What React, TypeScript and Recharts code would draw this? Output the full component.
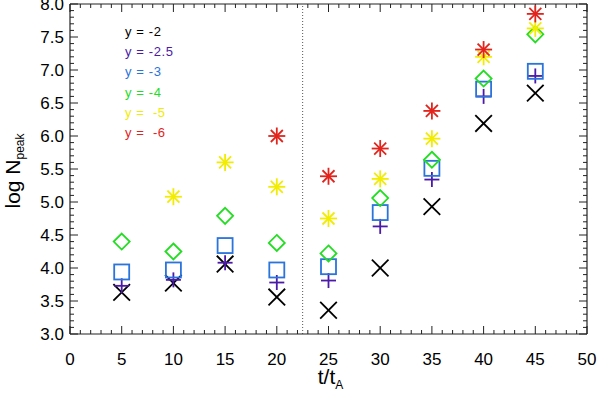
import React from 'react';
import { ScatterChart, Scatter, XAxis, YAxis, ReferenceLine } from 'recharts';

// ---------- data ----------
const times = [5, 10, 15, 20, 25, 30, 35, 40, 45];
const seriesLabels = ['y = -2', 'y = -2.5', 'y = -3', 'y = -4', 'y =  -5', 'y =  -6'];
const seriesColors = ['#000000', '#4b1aa8', '#2a74dc', '#22dd22', '#f2ec00', '#e2241c'];
const seriesKinds = ['x', 'plus', 'square', 'diamond', 'asterisk', 'asterisk'];

const valsM2 = [3.63, 3.77, 4.06, 3.56, 3.36, 4.0, 4.93, 6.19, 6.65];
const valsM25 = [3.73, 3.82, 4.08, 3.78, 3.81, 4.63, 5.34, 6.6, 6.91];
const valsM3 = [3.94, 3.97, 4.34, 3.97, 4.02, 4.84, 5.51, 6.71, 6.98];
const valsM4 = [4.4, 4.25, 4.79, 4.38, 4.22, 5.06, 5.64, 6.87, 7.54];
const valsM5 = [null, 5.08, 5.6, 5.23, 4.75, 5.35, 5.96, 7.2, 7.63];
const valsM6 = [null, null, null, 6.0, 5.39, 5.81, 6.38, 7.31, 7.85];
const allVals = [valsM2, valsM25, valsM3, valsM4, valsM5, valsM6];

const xMajorTicks = [0, 5, 10, 15, 20, 25, 30, 35, 40, 45, 50];
const xMinorTicks = [
  1, 2, 3, 4, 6, 7, 8, 9, 11, 12, 13, 14, 16, 17, 18, 19, 21, 22, 23, 24,
  26, 27, 28, 29, 31, 32, 33, 34, 36, 37, 38, 39, 41, 42, 43, 44, 46, 47, 48, 49,
];
const yMajorTicks = [3, 3.5, 4, 4.5, 5, 5.5, 6, 6.5, 7, 7.5, 8];
const yMinorTicks = [
  3.1, 3.2, 3.3, 3.4, 3.6, 3.7, 3.8, 3.9, 4.1, 4.2, 4.3, 4.4, 4.6, 4.7, 4.8, 4.9,
  5.1, 5.2, 5.3, 5.4, 5.6, 5.7, 5.8, 5.9, 6.1, 6.2, 6.3, 6.4, 6.6, 6.7, 6.8, 6.9,
  7.1, 7.2, 7.3, 7.4, 7.6, 7.7, 7.8, 7.9,
];
const separatorX = 22.5;

// ---------- layout constants ----------
const W = 600;
const H = 394;
const MARGIN = { top: 4, right: 13, left: 0, bottom: 0 };
const Y_AXIS_W = 70;
const X_AXIS_H = 60;
const X_MIN = 0, X_MAX = 50, Y_MIN = 3, Y_MAX = 8;
const plotW = W - MARGIN.left - MARGIN.right - Y_AXIS_W;
const plotH = H - MARGIN.top - MARGIN.bottom - X_AXIS_H;
const pxPerX = plotW / (X_MAX - X_MIN);
const pxPerY = plotH / (Y_MAX - Y_MIN);
const MAJOR = 8;
const MINOR = 4;
const FONT = '"Liberation Sans", Arial, Helvetica, sans-serif';
const AXIS_COLOR = '#222';

const makeShape = (kind: string, color: string) => (props: any) => {
  const { cx, cy } = props;
  if (cx == null || cy == null) return <g />;
  const sw = 1.8;
  const common = { stroke: color, strokeWidth: sw, fill: 'none' };
  if (kind === 'x') {
    const h = 8.3;
    return (
      <g {...common}>
        <line x1={cx - h} y1={cy - h} x2={cx + h} y2={cy + h} />
        <line x1={cx - h} y1={cy + h} x2={cx + h} y2={cy - h} />
      </g>
    );
  }
  if (kind === 'plus') {
    const h = 7.5;
    return (
      <g {...common}>
        <line x1={cx - h} y1={cy} x2={cx + h} y2={cy} />
        <line x1={cx} y1={cy - h} x2={cx} y2={cy + h} />
      </g>
    );
  }
  if (kind === 'square') {
    const h = 7.5;
    return <rect {...common} x={cx - h} y={cy - h} width={2 * h} height={2 * h} />;
  }
  if (kind === 'diamond') {
    const h = 8;
    return (
      <polygon
        {...common}
        points={`${cx},${cy - h} ${cx + h},${cy} ${cx},${cy + h} ${cx - h},${cy}`}
      />
    );
  }
  // asterisk
  const h = 8.5;
  const d = 6;
  return (
    <g {...common}>
      <line x1={cx - h} y1={cy} x2={cx + h} y2={cy} />
      <line x1={cx} y1={cy - h} x2={cx} y2={cy + h} />
      <line x1={cx - d} y1={cy - d} x2={cx + d} y2={cy + d} />
      <line x1={cx - d} y1={cy + d} x2={cx + d} y2={cy - d} />
    </g>
  );
};

const XTick = (props: any) => {
  const { x, y, payload } = props;
  return (
    <text x={x} y={y + 31} textAnchor="middle" fontSize={17} fontFamily={FONT} fill="#000">
      {payload.value}
    </text>
  );
};

const YTick = (props: any) => {
  const { x, y, payload } = props;
  return (
    <text x={x - 6} y={y + 6} textAnchor="end" fontSize={17} fontFamily={FONT} fill="#000">
      {Number(payload.value).toFixed(1)}
    </text>
  );
};

const XTitle = (props: any) => {
  const vb = props.viewBox || { x: 70, y: 334, width: 517 };
  const cx = vb.x + vb.width / 2 + 2;
  return (
    <text x={cx} y={vb.y + 50} textAnchor="middle" fontFamily={FONT} fill="#000">
      <tspan fontSize={21}>t/t</tspan>
      <tspan fontSize={12} dy={5}>A</tspan>
    </text>
  );
};

const YTitle = (props: any) => {
  const vb = props.viewBox || { x: 0, y: 4, height: 330 };
  const cy = vb.y + vb.height / 2 + 2;
  const bx = 20;
  return (
    <text
      x={bx}
      y={cy}
      transform={`rotate(-90, ${bx}, ${cy})`}
      textAnchor="middle"
      fontFamily={FONT}
      fill="#000"
    >
      <tspan fontSize={21}>log N</tspan>
      <tspan fontSize={12} dy={4}>peak</tspan>
    </text>
  );
};

export default function App() {
  const xLen = (px: number) => px / pxPerX;
  const yLen = (px: number) => px / pxPerY;

  const tickLines: React.ReactNode[] = [];
  const addX = (v: number, len: number, key: string) => {
    tickLines.push(
      <ReferenceLine key={`xb${key}`} segment={[{ x: v, y: Y_MIN }, { x: v, y: Y_MIN + yLen(len) }]} stroke={AXIS_COLOR} strokeWidth={1} ifOverflow="visible" />,
      <ReferenceLine key={`xt${key}`} segment={[{ x: v, y: Y_MAX }, { x: v, y: Y_MAX - yLen(len) }]} stroke={AXIS_COLOR} strokeWidth={1} ifOverflow="visible" />,
    );
  };
  const addY = (v: number, len: number, key: string) => {
    tickLines.push(
      <ReferenceLine key={`yl${key}`} segment={[{ x: X_MIN, y: v }, { x: X_MIN + xLen(len), y: v }]} stroke={AXIS_COLOR} strokeWidth={1} ifOverflow="visible" />,
      <ReferenceLine key={`yr${key}`} segment={[{ x: X_MAX, y: v }, { x: X_MAX - xLen(len), y: v }]} stroke={AXIS_COLOR} strokeWidth={1} ifOverflow="visible" />,
    );
  };
  xMajorTicks.forEach((v, i) => addX(v, MAJOR, `M${i}`));
  xMinorTicks.forEach((v, i) => addX(v, MINOR, `m${i}`));
  yMajorTicks.forEach((v, i) => addY(v, MAJOR, `M${i}`));
  yMinorTicks.forEach((v, i) => addY(v, MINOR, `m${i}`));

  return (
    <div style={{ position: 'absolute', left: 0, top: 0, width: W, height: H, background: '#fff' }}>
      <ScatterChart width={W} height={H} margin={MARGIN}>
        <XAxis
          type="number"
          dataKey="x"
          domain={[X_MIN, X_MAX]}
          ticks={xMajorTicks}
          interval={0}
          allowDataOverflow
          tickLine={false}
          tickSize={0}
          tickMargin={0}
          height={X_AXIS_H}
          axisLine={{ stroke: AXIS_COLOR, strokeWidth: 1.2 }}
          tick={<XTick />}
          label={<XTitle />}
        />
        <YAxis
          type="number"
          dataKey="y"
          domain={[Y_MIN, Y_MAX]}
          ticks={yMajorTicks}
          interval={0}
          allowDataOverflow
          tickLine={false}
          tickSize={0}
          tickMargin={0}
          width={Y_AXIS_W}
          axisLine={{ stroke: AXIS_COLOR, strokeWidth: 1.2 }}
          tick={<YTick />}
          label={<YTitle />}
        />
        <ReferenceLine y={Y_MAX} stroke={AXIS_COLOR} strokeWidth={1.2} ifOverflow="visible" />
        <ReferenceLine x={X_MAX} stroke={AXIS_COLOR} strokeWidth={1.2} ifOverflow="visible" />
        {tickLines}
        <ReferenceLine x={separatorX} stroke="#555" strokeWidth={1} strokeDasharray="1 2" />
        {allVals.map((vals, si) => (
          <Scatter
            key={seriesLabels[si]}
            name={seriesLabels[si]}
            data={times
              .map((t, i) => ({ x: t, y: vals[i] }))
              .filter((d) => d.y != null)}
            shape={makeShape(seriesKinds[si], seriesColors[si])}
            isAnimationActive={false}
          />
        ))}
      </ScatterChart>
      <div
        style={{
          position: 'absolute',
          left: 125,
          top: 22,
          fontFamily: FONT,
          fontSize: 13,
          lineHeight: '20.2px',
          letterSpacing: 0.6,
          whiteSpace: 'pre',
        }}
      >
        {seriesLabels.map((s, i) => (
          <div key={s} style={{ color: seriesColors[i] }}>
            {s}
          </div>
        ))}
      </div>
    </div>
  );
}
